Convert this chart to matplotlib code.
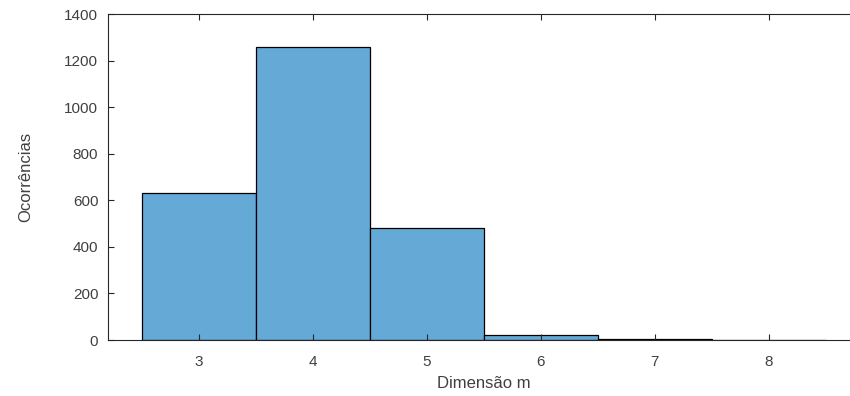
import matplotlib.pyplot as plt

dimensao = [3, 4, 5, 6, 7, 8]
ocorrencias = [630, 1260, 483, 20, 6, 0]
yticks = [0, 200, 400, 600, 800, 1000, 1200, 1400]

plt.rcParams['font.family'] = ['Liberation Sans', 'DejaVu Sans']
axis_color = '#262626'

fig = plt.figure(figsize=(8.5, 3.96), dpi=100)
ax = fig.add_axes([108 / 850, 56 / 396, 752 / 850, 326 / 396])

ax.bar(dimensao, ocorrencias, width=1.0, color='#65a9d7',
       edgecolor='black', linewidth=0.9)

ax.set_xlim(2.2, 8.8)
ax.set_ylim(0, 1400)
ax.set_xticks(dimensao)
ax.set_yticks(yticks)

ax.tick_params(direction='in', top=True, right=True, length=4,
               colors=axis_color, labelsize=11, labelcolor='#404040')
ax.tick_params(axis='x', pad=11)
ax.tick_params(axis='y', pad=7)
for s in ax.spines.values():
    s.set_color(axis_color)
    s.set_linewidth(0.8)

ax.set_xlabel('Dimensão m', fontsize=12, color='#404040', labelpad=5)
ax.set_ylabel('Ocorrências', fontsize=12, color='#404040', labelpad=22)

fig.savefig('out.png', dpi=100)
plt.close()
